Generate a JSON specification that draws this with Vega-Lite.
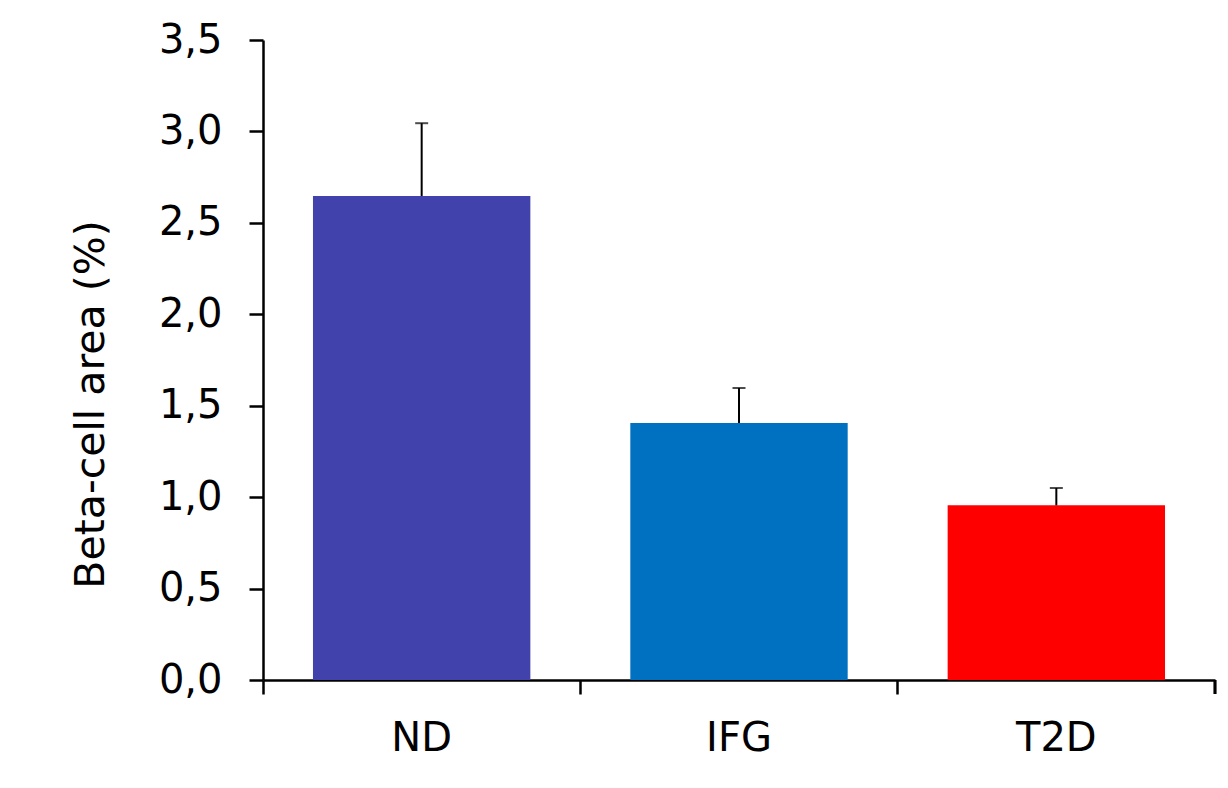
{
  "$schema": "https://vega.github.io/schema/vega-lite/v6.json",
  "autosize": "none",
  "width": 952,
  "height": 640,
  "padding": {"left": 263, "top": 40, "right": 13, "bottom": 108},
  "background": "white",
  "config": {
    "view": {"stroke": null},
    "font": "DejaVu Sans",
    "axis": {"grid": false, "domainColor": "black", "domainWidth": 2.5, "tickColor": "black", "tickWidth": 2.5, "tickSize": 14, "labelColor": "black", "titleColor": "black", "labelFont": "DejaVu Sans", "titleFont": "DejaVu Sans"}
  },
  "data": {"values": [
    {"group": "ND", "mean": 2.647, "upper": 3.045, "color": "#4242AD"},
    {"group": "IFG", "mean": 1.405, "upper": 1.597, "color": "#0070C0"},
    {"group": "T2D", "mean": 0.955, "upper": 1.05, "color": "#FF0000"}
  ]},
  "encoding": {
    "x": {"field": "group", "type": "nominal", "sort": null,
      "scale": {"paddingInner": 0, "paddingOuter": 0},
      "axis": {"title": null, "labelAngle": 0, "labelFontSize": 40, "labelPadding": 24, "bandPosition": 0, "labelOffset": 0}
    }
  },
  "layer": [
    {
      "mark": {"type": "bar", "width": {"band": 0.685}},
      "encoding": {
        "y": {"field": "mean", "type": "quantitative",
          "scale": {"domain": [0, 3.5], "nice": false},
          "axis": {"title": "Beta-cell area (%)", "titleFontSize": 41, "titleFontWeight": "normal", "titlePadding": 46, "titleY": 364,
            "values": [0, 0.5, 1, 1.5, 2, 2.5, 3, 3.5], "labelFontSize": 40, "labelPadding": 27,
            "labelExpr": "replace(format(datum.value, '.1f'), '.', ',')"}
        },
        "color": {"field": "color", "type": "nominal", "scale": null}
      }
    },
    {
      "mark": {"type": "rule", "color": "black", "strokeWidth": 2},
      "encoding": {
        "y": {"field": "mean", "type": "quantitative"},
        "y2": {"field": "upper"}
      }
    },
    {
      "mark": {"type": "tick", "color": "black", "thickness": 2, "size": 13, "orient": "horizontal"},
      "encoding": {
        "y": {"field": "upper", "type": "quantitative"}
      }
    },
    {
      "mark": {"type": "rule", "color": "black", "strokeWidth": 2.5, "y2Offset": 14},
      "encoding": {
        "x": {"datum": "T2D", "bandPosition": 1},
        "y": {"datum": 0},
        "y2": {"datum": 0}
      }
    }
  ]
}
